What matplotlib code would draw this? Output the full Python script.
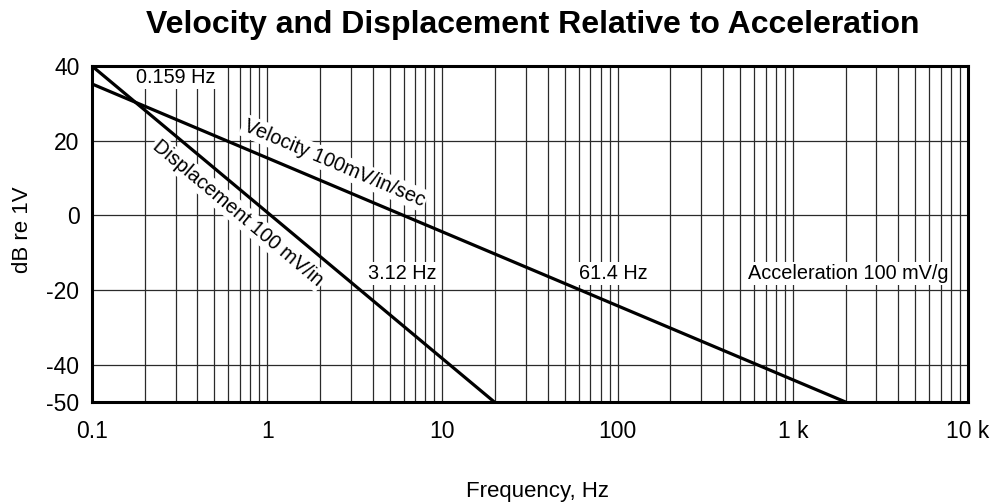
import numpy as np
import matplotlib
matplotlib.use("Agg")
import matplotlib.pyplot as plt
from matplotlib.ticker import LogLocator, FixedLocator, FixedFormatter, NullFormatter

plt.rcParams['font.family'] = ['Liberation Sans', 'DejaVu Sans']
plt.rcParams['axes.unicode_minus'] = False

### data
disp_freq = [0.1, 19.8]
disp_db = [40, -50]
vel_freq = [0.1, 2000]
vel_db = [35.2, -50]

x_ticks = [0.1, 1, 10, 100, 1000, 10000]
x_labels = ['0.1', '1', '10', '100', '1 k', '10 k']
y_ticks = [40, 20, 0, -20, -40, -50]

# annotations: (text, freq, dB, rotation)
notes = [
    ('0.159 Hz', 0.30, 36.8, 0),
    ('Velocity 100mV/in/sec', 2.41, 14.0, -23),
    ('Displacement 100 mV/in', 0.683, 0.6, -40),
    ('3.12 Hz', 5.9, -15.5, 0),
    ('61.4 Hz', 95, -15.5, 0),
    ('Acceleration 100 mV/g', 2060, -15.5, 0),
]

fig = plt.figure(figsize=(10.01, 5.04), dpi=100)
ax = fig.add_axes([0.0919, 0.2024, 0.8751, 0.6666])

ax.plot(disp_freq, disp_db, color='black', lw=2.3, zorder=4, solid_capstyle='butt')
ax.plot(vel_freq, vel_db, color='black', lw=2.3, zorder=4, solid_capstyle='butt')

ax.set_xscale('log')
ax.set_xlim(0.1, 10000)
ax.set_ylim(-50, 40)

ax.xaxis.set_major_locator(FixedLocator(x_ticks))
ax.xaxis.set_major_formatter(FixedFormatter(x_labels))
ax.xaxis.set_minor_locator(LogLocator(base=10, subs=np.arange(2, 10), numticks=100))
ax.xaxis.set_minor_formatter(NullFormatter())
ax.set_yticks(y_ticks)

ax.grid(which='both', axis='x', color='#2a2a2a', lw=0.9)
ax.grid(which='major', axis='y', color='#2a2a2a', lw=0.9)
ax.tick_params(which='both', length=0, labelsize=16.5)
ax.tick_params(axis='x', pad=13)
ax.tick_params(axis='y', pad=9)

for s in ax.spines.values():
    s.set_linewidth(2.2)
    s.set_zorder(5)

for txt, fx, fy, rot in notes:
    ax.text(fx, fy, txt, fontsize=14.3, rotation=rot, rotation_mode='anchor',
            ha='center', va='center', zorder=3,
            bbox=dict(facecolor='white', edgecolor='none', pad=1.5))

W, H = 1001, 504
fig.text(533 / W, 1 - 25 / H, 'Velocity and Displacement Relative to Acceleration',
         fontsize=23, fontweight='bold', ha='center', va='center')
fig.text(538 / W, 1 - 491 / H, 'Frequency, Hz', fontsize=16, ha='center', va='center')
fig.text(22 / W, 1 - 230 / H, 'dB re 1V', fontsize=16, ha='center', va='center',
         rotation=90)

fig.savefig('out.png', dpi=100)
